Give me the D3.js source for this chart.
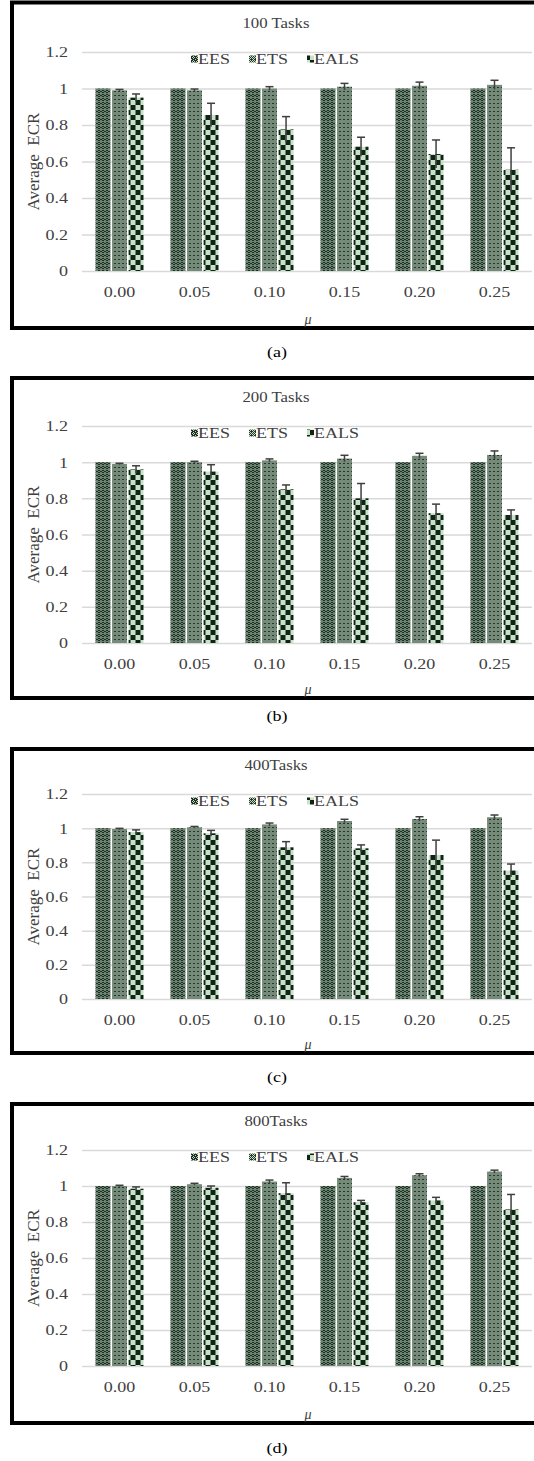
<!DOCTYPE html>
<html>
<head>
<meta charset="utf-8">
<script src="https://cdn.jsdelivr.net/npm/d3@7"></script>
<style>
  body { margin: 0; background: #fff; }
  svg { display: block; }
</style>
</head>
<body>
<div id="app"></div>
<script>
// chart data
const categories = ["0.00", "0.05", "0.10", "0.15", "0.20", "0.25"];
const seriesNames = ["EES", "ETS", "EALS"];
const yTicks = [0, 0.2, 0.4, 0.6, 0.8, 1, 1.2];
const titles = ["100 Tasks", "200 Tasks", "400Tasks", "800Tasks"];
const captions = ["(a)", "(b)", "(c)", "(d)"];

const ees = [1, 1, 1, 1, 1, 1];

const ets100 = [0.99, 0.99, 1.0, 1.01, 1.015, 1.02];
const ets100Err = [0.005, 0.007, 0.01, 0.018, 0.02, 0.025];
const eals100 = [0.95, 0.855, 0.776, 0.681, 0.641, 0.555];
const eals100Err = [0.02, 0.064, 0.07, 0.052, 0.077, 0.12];

const ets200 = [0.99, 1.0, 1.01, 1.02, 1.035, 1.04];
const ets200Err = [0.004, 0.005, 0.008, 0.018, 0.014, 0.022];
const eals200 = [0.96, 0.948, 0.85, 0.80, 0.718, 0.708];
const eals200Err = [0.02, 0.038, 0.024, 0.082, 0.05, 0.028];

const ets400 = [0.995, 1.005, 1.022, 1.042, 1.054, 1.064];
const ets400Err = [0.004, 0.005, 0.008, 0.01, 0.013, 0.013];
const eals400 = [0.977, 0.97, 0.888, 0.882, 0.843, 0.752];
const eals400Err = [0.013, 0.017, 0.033, 0.02, 0.087, 0.038];

const ets800 = [1.0, 1.01, 1.025, 1.045, 1.06, 1.08];
const ets800Err = [0.004, 0.005, 0.008, 0.008, 0.008, 0.008];
const eals800 = [0.985, 0.99, 0.96, 0.91, 0.92, 0.87];
const eals800Err = [0.01, 0.01, 0.058, 0.01, 0.017, 0.083];

const panelValues = [
  [ees, ets100, eals100],
  [ees, ets200, eals200],
  [ees, ets400, eals400],
  [ees, ets800, eals800]
];
const panelErrors = [
  [null, ets100Err, eals100Err],
  [null, ets200Err, eals200Err],
  [null, ets400Err, eals400Err],
  [null, ets800Err, eals800Err]
];

// layout of the four stacked panels
const panels = [
  { top: 2.5, bottom: 328, yMax: 52, yZero: 271, caption: 352 },
  { top: 378, bottom: 698, yMax: 426, yZero: 643, caption: 716 },
  { top: 749, bottom: 1053, yMax: 794, yZero: 999, caption: 1077 },
  { top: 1104, bottom: 1423, yMax: 1150, yZero: 1366, caption: 1448 }
];

const W = 534, H = 1461;
const plotLeft = 82, plotRight = 532;
const serif = "'Liberation Serif', 'Times New Roman', serif";
const stretch = 1.2;

const svg = d3.select('#app')
  .append('svg')
  .attr('width', W)
  .attr('height', H);

// fill patterns
const defs = svg.append('defs');

function pixelPattern(id, size, bg, fg, cells) {
  const p = defs.append('pattern')
    .attr('id', id).attr('patternUnits', 'userSpaceOnUse')
    .attr('width', size).attr('height', size);
  p.append('rect').attr('width', size).attr('height', size).attr('fill', bg);
  cells.forEach(c => {
    p.append('rect').attr('x', c[0]).attr('y', c[1])
      .attr('width', c[2] || 1).attr('height', c[3] || 1).attr('fill', fg);
  });
}

// EES: dark with small light diamonds
pixelPattern('pEES', 4, '#1c3023', '#bcd3bc',
  [[1, 0], [0, 1], [2, 1], [1, 2], [3, 3]]);
// ETS: dark columns of light dots, a bit lighter overall
pixelPattern('pETS', 4, '#223829', '#c7dcc7',
  [[0, 0], [2, 0], [1, 1], [3, 1], [0, 2], [2, 2], [1, 3]]);
// EALS: coarse checkerboard
pixelPattern('pEALS', 10, '#c8e2c8', '#0f2317',
  [[0, 0, 5, 5], [5, 5, 5, 5]]);

const fills = ['url(#pEES)', 'url(#pETS)', 'url(#pEALS)'];

const x0 = d3.scaleBand()
  .domain(categories)
  .range([plotLeft, plotRight])
  .paddingInner(0.36)
  .paddingOuter(0.18);

const x1 = d3.scaleBand()
  .domain(seriesNames)
  .range([0, x0.bandwidth()])
  .paddingInner(0.1);

function stretchedText(g, x, y, str, size, anchor) {
  return g.append('text')
    .attr('transform', `translate(${x},${y}) scale(${stretch},1)`)
    .attr('text-anchor', anchor || 'middle')
    .attr('dominant-baseline', 'central')
    .style('font-family', serif)
    .style('font-size', size + 'px')
    .attr('fill', '#404040')
    .text(str);
}

panels.forEach((p, pi) => {
  const g = svg.append('g');

  const y = d3.scaleLinear()
    .domain([0, 1.2])
    .range([p.yZero, p.yMax]);

  // frame
  g.append('rect')
    .attr('x', 12).attr('y', p.top)
    .attr('width', 540).attr('height', p.bottom - p.top)
    .attr('fill', 'none')
    .attr('stroke', '#000')
    .attr('stroke-width', 4);

  // y axis with gridlines
  const yAxis = g.append('g')
    .attr('transform', `translate(${plotLeft},0)`)
    .call(d3.axisLeft(y)
      .tickValues(yTicks)
      .tickSize(-(plotRight - plotLeft))
      .tickPadding(14)
      .tickFormat(d3.format('~g')));
  yAxis.select('.domain').remove();
  yAxis.selectAll('.tick line')
    .attr('stroke', '#d9d9d9')
    .attr('stroke-width', 1.5);
  yAxis.selectAll('.tick text')
    .attr('x', null)
    .attr('dy', null)
    .attr('transform', `translate(-14,0) scale(${stretch},1)`)
    .attr('dominant-baseline', 'central')
    .attr('fill', '#404040')
    .style('font-family', serif)
    .style('font-size', '15px');

  // x axis labels
  const xAxis = g.append('g')
    .attr('transform', `translate(0,${p.yZero})`)
    .call(d3.axisBottom(x0).tickSize(0).tickPadding(0));
  xAxis.select('.domain').remove();
  xAxis.selectAll('.tick text')
    .attr('y', null)
    .attr('dy', null)
    .attr('transform', `translate(0,21) scale(${stretch},1)`)
    .attr('dominant-baseline', 'central')
    .attr('fill', '#404040')
    .style('font-family', serif)
    .style('font-size', '15px');

  // bars
  const groups = g.selectAll('.grp')
    .data(categories)
    .enter()
    .append('g')
    .attr('transform', d => `translate(${x0(d)},0)`);

  seriesNames.forEach((s, si) => {
    const vals = panelValues[pi][si];
    const errs = panelErrors[pi][si];
    groups.append('rect')
      .attr('x', x1(s))
      .attr('y', (d, i) => y(vals[i]))
      .attr('width', x1.bandwidth())
      .attr('height', (d, i) => y(0) - y(vals[i]))
      .attr('fill', fills[si]);

    if (errs) {
      const cx = x1(s) + x1.bandwidth() / 2;
      groups.append('line')
        .attr('x1', cx).attr('x2', cx)
        .attr('y1', (d, i) => y(vals[i] - errs[i]))
        .attr('y2', (d, i) => y(vals[i] + errs[i]))
        .attr('stroke', '#3f3f3f')
        .attr('stroke-width', 1.5);
      groups.append('line')
        .attr('x1', cx - 4).attr('x2', cx + 4)
        .attr('y1', (d, i) => y(vals[i] + errs[i]))
        .attr('y2', (d, i) => y(vals[i] + errs[i]))
        .attr('stroke', '#3f3f3f')
        .attr('stroke-width', 1.5);
    }
  });

  // title
  stretchedText(g, 276, p.yMax - 29, titles[pi], 14);

  // legend
  const legendX = [191, 249, 307];
  const ly = p.yMax + 7;
  seriesNames.forEach((s, si) => {
    g.append('rect')
      .attr('x', legendX[si]).attr('y', ly - 3.5)
      .attr('width', 7).attr('height', 7)
      .attr('fill', fills[si]);
    stretchedText(g, legendX[si] + 7, ly, s, 15, 'start');
  });

  // axis titles
  g.append('text')
    .attr('transform', `translate(33,${(p.yMax + p.yZero) / 2}) rotate(-90)`)
    .attr('text-anchor', 'middle')
    .attr('dominant-baseline', 'central')
    .style('font-family', serif)
    .style('font-size', '17px')
    .style('white-space', 'pre')
    .attr('fill', '#404040')
    .text('Average  ECR');

  g.append('text')
    .attr('x', 308)
    .attr('y', p.bottom - 9)
    .attr('text-anchor', 'middle')
    .attr('dominant-baseline', 'central')
    .style('font-family', serif)
    .style('font-style', 'italic')
    .style('font-size', '14px')
    .attr('fill', '#404040')
    .text('\u03bc');

  // caption
  stretchedText(g, 277, p.caption, captions[pi], 15)
    .attr('fill', '#000');
});
</script>
</body>
</html>
